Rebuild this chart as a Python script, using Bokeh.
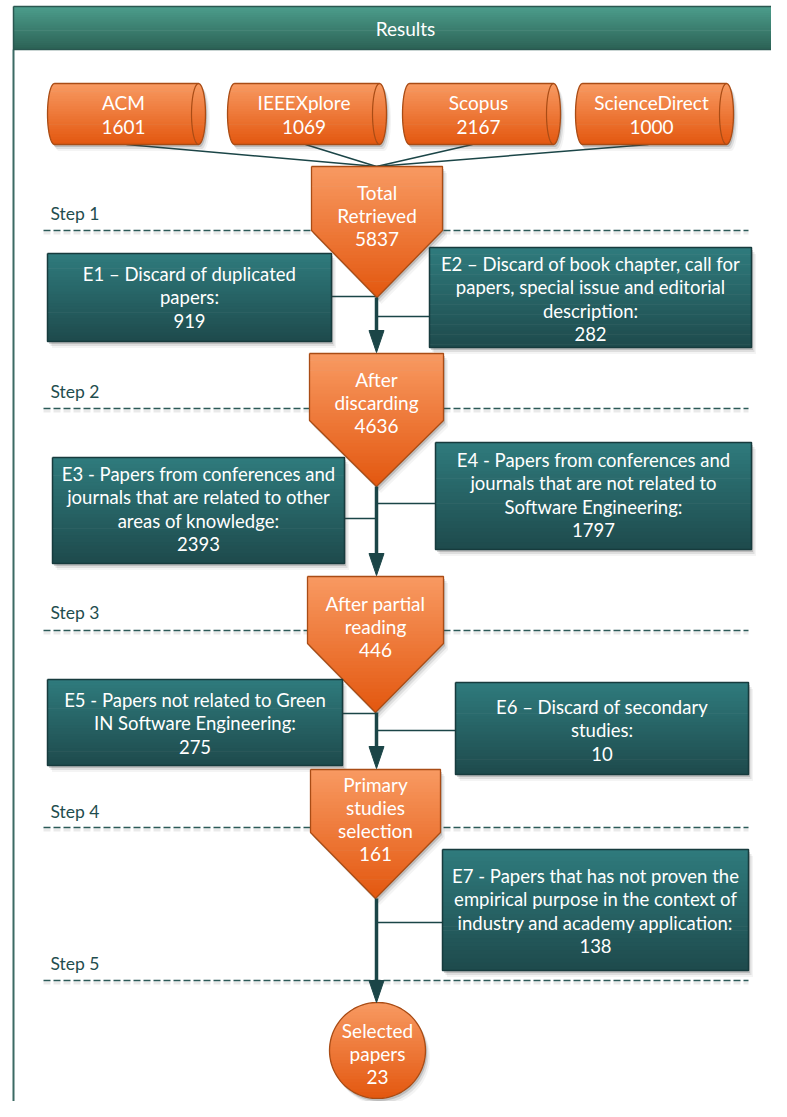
import numpy as np
from bokeh.plotting import figure
from bokeh.models import Range1d, ColumnDataSource
from bokeh.core.properties import value
from bokeh.embed import file_html
from bokeh.resources import INLINE

# ---------------- data ----------------
title = "Results"
sources = ["ACM", "IEEEXplore", "Scopus", "ScienceDirect"]
source_counts = [1601, 1069, 2167, 1000]
stage_labels = [["Total", "Retrieved"], ["After", "discarding"], ["After partial", "reading"],
                ["Primary", "studies", "selection"], ["Selected", "papers"]]
stage_counts = [5837, 4636, 446, 161, 23]
step_labels = ["Step 1", "Step 2", "Step 3", "Step 4", "Step 5"]
exclusion_texts = [
    ["E1 \u2013 Discard of duplicated", "papers:"],
    ["E2 \u2013 Discard of book chapter, call for", "papers, special issue and editorial", "description:"],
    ["E3 - Papers from conferences and", "journals that are related to other", "areas of knowledge:"],
    ["E4 - Papers from conferences and", "journals that are not related to", "Software Engineering:"],
    ["E5 - Papers not related to Green", "IN Software Engineering:"],
    ["E6 \u2013 Discard of secondary", "studies:"],
    ["E7 - Papers that has not proven the", "empirical purpose in the context of",
     "industry and academy application:"],
]
exclusion_counts = [919, 282, 2393, 1797, 275, 10, 138]

# ---------------- layout (pixel coords) ----------------
FONT = value("Lato")
XC = 376
cyl_boxes = [(47, 205), (227, 386), (402, 560), (575, 733)]
cyl_y = (83, 144)
cyl_attach = [126, 305, 472, 648]
pent = [  # x0, x1, top, shoulder, tip
    (311, 442, 166, 230, 297),
    (309, 443, 353, 420, 486),
    (307, 443, 576, 643, 712),
    (310, 440, 769, 832, 898),
]
pent_text_y = [192, 379, 603, 784]
circle_c = (377, 1050, 48)
circle_text_y = 1030
step_line_y = [230, 408, 630, 827, 980]
step_text_y = [213, 391, 612, 811, 963]
boxes = [  # x0, x1, y0, y1, first text line y
    (47, 331, 253, 341, 273),
    (429, 751, 247, 347, 263),
    (52, 344, 457, 563, 473),
    (435, 751, 442, 549, 459),
    (47, 342, 679, 765, 699),
    (455, 748, 682, 774, 706),
    (442, 748, 849, 970, 875),
]
box_conn_y = [296, 316, 518, 503, 713, 730, 922]
main_segments = [(297, 352), (486, 575), (712, 768), (898, 1002)]

ORANGE_TOP, ORANGE_BOT, ORANGE_LINE = "#f89a62", "#e3570f", "#a94c15"
TEAL_TOP, TEAL_BOT, TEAL_LINE = "#2f7b7d", "#1e4a4c", "#173b3d"
HEAD_TOP, HEAD_BOT = "#4c9e8c", "#2c6155"
DARK = "#1b4547"


def hex2rgb(h):
    h = h.lstrip("#")
    return np.array([int(h[i:i + 2], 16) for i in (0, 2, 4)], dtype=float)


def mix(c1, c2, t):
    a, b = hex2rgb(c1), hex2rgb(c2)
    c = a + (b - a) * t
    return "#%02x%02x%02x" % tuple(int(round(v)) for v in c)


def clip_half(poly, y0, keep_ge):
    out = []
    n = len(poly)
    for i in range(n):
        cur, prev = poly[i], poly[i - 1]
        cin = cur[1] >= y0 if keep_ge else cur[1] <= y0
        pin = prev[1] >= y0 if keep_ge else prev[1] <= y0

        def inter():
            t = (y0 - prev[1]) / (cur[1] - prev[1])
            return (prev[0] + t * (cur[0] - prev[0]), y0)
        if cin:
            if not pin:
                out.append(inter())
            out.append(cur)
        elif pin:
            out.append(inter())
    return out


strip_xs, strip_ys, strip_cols = [], [], []
out_xs, out_ys, out_cols, out_w = [], [], [], []
sh_xs, sh_ys, sh_alpha = [], [], []


def add_shape(poly, ctop, cbot, cline, lw=1.3, n=28, shadow=True):
    ys = [p[1] for p in poly]
    ymin, ymax = min(ys), max(ys)
    h = (ymax - ymin) / n
    if shadow:
        for (dx, dy, a) in [(1.5, 2.5, 0.22), (3, 4.5, 0.12), (4.5, 6.5, 0.06)]:
            sh_xs.append([p[0] + dx for p in poly])
            sh_ys.append([p[1] + dy for p in poly])
            sh_alpha.append(a)
    for k in range(n):
        ya = ymin + k * h
        yb = min(ymax, ya + h + 0.7)
        band = clip_half(clip_half(poly, ya, True), yb, False)
        if len(band) >= 3:
            strip_xs.append([p[0] for p in band])
            strip_ys.append([p[1] for p in band])
            strip_cols.append(mix(ctop, cbot, (k + 0.5) / n))
    out_xs.append([p[0] for p in poly] + [poly[0][0]])
    out_ys.append([p[1] for p in poly] + [poly[0][1]])
    out_cols.append(cline)
    out_w.append(lw)


def rect(x0, x1, y0, y1):
    return [(x0, y0), (x1, y0), (x1, y1), (x0, y1)]


p = figure(width=771, height=1101, x_range=Range1d(0, 771), y_range=Range1d(1101, 0),
           output_backend="svg", toolbar_location=None, min_border=0,
           x_axis_type=None, y_axis_type=None)
p.grid.visible = False
p.outline_line_color = None
p.background_fill_color = "white"
p.border_fill_color = "white"

# header + frame
add_shape(rect(13, 800, 6, 49), HEAD_TOP, HEAD_BOT, "#2a5750", lw=1.5, n=20, shadow=False)
# cylinders
rx = 7
cyl_inner = []
for (x0, x1) in cyl_boxes:
    y0, y1 = cyl_y
    yc, ry = (y0 + y1) / 2, (y1 - y0) / 2
    th1 = np.linspace(np.pi / 2, 3 * np.pi / 2, 25)
    th2 = np.linspace(-np.pi / 2, np.pi / 2, 25)
    poly = [(x0 + rx + rx * np.cos(t), yc - ry * np.sin(t)) for t in th1]
    poly += [(x1 - rx + rx * np.cos(t), yc - ry * np.sin(t)) for t in th2]
    add_shape(poly, ORANGE_TOP, ORANGE_BOT, ORANGE_LINE, n=24)
    cyl_inner.append([(x1 - rx + rx * np.cos(t), yc - ry * np.sin(t)) for t in th1])
# pentagons
for (x0, x1, yt, ys_, ytip) in pent:
    xm = (x0 + x1) / 2
    add_shape([(x0, yt), (x1, yt), (x1, ys_), (xm, ytip), (x0, ys_)], ORANGE_TOP, ORANGE_BOT, ORANGE_LINE, n=40)
# circle
cx, cy, r = circle_c
th = np.linspace(0, 2 * np.pi, 90, endpoint=False)
add_shape([(cx + r * np.cos(t), cy + r * np.sin(t)) for t in th], ORANGE_TOP, ORANGE_BOT, ORANGE_LINE, n=30)
# boxes
for (x0, x1, y0, y1, _) in boxes:
    add_shape(rect(x0, x1, y0, y1), TEAL_TOP, TEAL_BOT, TEAL_LINE, lw=1.5, n=30)

# --- draw: frame, dashed lines, connectors
p.line([13, 13], [49, 1120], line_color="#3b6a64", line_width=2)
for y in step_line_y:
    p.line([43, 748], [y + 2.5, y + 2.5], line_color="#bbbbbb", line_width=3, line_dash="7 3", line_alpha=0.3)
    p.line([43, 748], [y, y], line_color="#2b5a58", line_width=1.5, line_dash="7 3")
for xa in cyl_attach:
    p.line([xa, XC], [cyl_y[1], pent[0][2]], line_color=DARK, line_width=1.5)
for (x0, x1, y0, y1, _), yc in zip(boxes, box_conn_y):
    xe = x1 if x1 < XC else x0
    p.line([xe, XC], [yc, yc], line_color=DARK, line_width=1.5)

p.patches(xs=sh_xs, ys=sh_ys, fill_color="#444444", fill_alpha=sh_alpha, line_color=None)
p.patches(xs=strip_xs, ys=strip_ys, fill_color=strip_cols, line_color=None)
p.multi_line(xs=out_xs, ys=out_ys, line_color=out_cols, line_width=out_w)
p.multi_line(xs=[[q[0] for q in c] for c in cyl_inner], ys=[[q[1] for q in c] for c in cyl_inner],
             line_color=ORANGE_LINE, line_width=1.2)

# main flow arrows
for (ya, yb) in main_segments:
    p.line([XC, XC], [ya, yb - 16], line_color=DARK, line_width=3.5)
ah_x = [[XC - 7.5, XC + 7.5, XC] for _ in main_segments]
ah_y = [[yb - 22, yb - 22, yb] for (_, yb) in main_segments]
p.patches(xs=ah_x, ys=ah_y, fill_color=DARK, line_color=DARK, line_width=1)

# --- texts
tx, ty, tt, ts, tc, ta = [], [], [], [], [], []


def put(x, y, s, size="17px", color="white", align="center"):
    tx.append(x); ty.append(y); tt.append(s); ts.append(size); tc.append(color); ta.append(align)


put(405, 28, title, "19px")
for (x0, x1), name, cnt in zip(cyl_boxes, sources, source_counts):
    xm = (x0 + x1) / 2 - 3
    put(xm, 102, name, "19px")
    put(xm, 126, str(cnt), "19px")
for (x0, x1, yt, _, _), lines, cnt, y in zip(pent, stage_labels[:4], stage_counts[:4], pent_text_y):
    xm = (x0 + x1) / 2
    for i, s in enumerate(lines + [str(cnt)]):
        put(xm, y + 23 * i, s, "19px")
for i, s in enumerate(stage_labels[4] + [str(stage_counts[4])]):
    put(cx, circle_text_y + 23 * i, s, "19px")
for s, y in zip(step_labels, step_text_y):
    put(50, y, s, "17.5px", "#1f4d4e", "left")
for (x0, x1, y0, y1, yt), lines, cnt in zip(boxes, exclusion_texts, exclusion_counts):
    xm = (x0 + x1) / 2
    for i, s in enumerate(lines + [str(cnt)]):
        put(xm, yt + 23.5 * i, s, "18.5px")

src = ColumnDataSource(dict(x=tx, y=ty, t=tt, s=ts, c=tc, a=ta))
p.text(x="x", y="y", text="t", text_font_size="s", text_color="c", text_align="a",
       text_baseline="middle", text_font=FONT, source=src)

open("out.html", "w").write(file_html(p, INLINE))
